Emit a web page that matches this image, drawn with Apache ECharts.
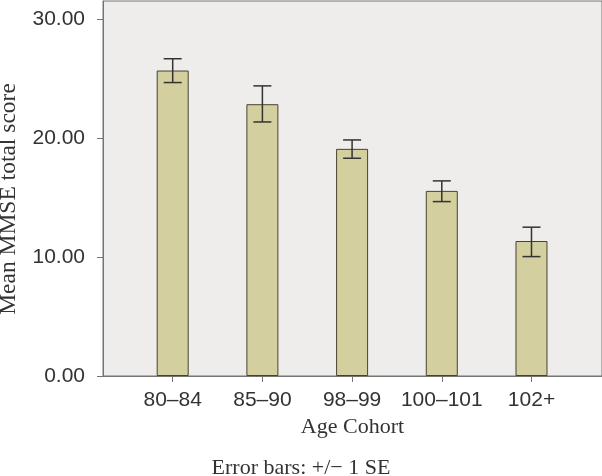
<!DOCTYPE html>
<html>
<head>
<meta charset="utf-8">
<script src="https://cdn.jsdelivr.net/npm/echarts@6/dist/echarts.min.js"></script>
<style>html,body{margin:0;padding:0;background:#fff;}#c{width:602px;height:476px;}</style>
</head>
<body>
<div id="c"></div>
<script>
var categories = ['80\u201384', '85\u201390', '98\u201399', '100\u2013101', '102+'];
var means = [25.66, 22.83, 19.08, 15.55, 11.34];
var seLow = [24.65, 21.34, 18.29, 14.65, 10.03];
var seHigh = [26.65, 24.37, 19.83, 16.39, 12.50];
var yTicks = [0, 10, 20, 30];

var positions = categories.map(function (c, i) { return i + 1; });
var barData = means.map(function (v, i) { return [positions[i], v]; });
var errData = means.map(function (v, i) { return [positions[i], seLow[i], seHigh[i]]; });

var chart = echarts.init(document.getElementById('c'), null, {renderer: 'canvas'});
var gray = '#747474';
var txt = '#333333';
chart.setOption({
  animation: false,
  grid: {
    left: 103, top: 1, right: -1, bottom: 100,
    show: true, backgroundColor: '#efedeb', borderColor: gray, borderWidth: 1
  },
  xAxis: {
    type: 'value', min: 0.223, max: 5.786,
    name: 'Age Cohort', nameLocation: 'middle', nameGap: 40,
    nameTextStyle: {fontFamily: 'Liberation Serif', fontSize: 22, color: txt},
    axisLine: {show: true, lineStyle: {color: gray, width: 1}},
    axisTick: {show: true, length: 6, lineStyle: {color: gray}, customValues: positions},
    axisLabel: {
      customValues: positions, margin: 14,
      fontFamily: 'Liberation Sans', fontSize: 21, color: txt,
      formatter: function (v) { return categories[Math.round(v) - 1] || ''; }
    },
    splitLine: {show: false}
  },
  yAxis: {
    type: 'value', min: 0, max: 31.5,
    axisLine: {show: true, lineStyle: {color: gray, width: 1}},
    axisTick: {show: true, length: 6, lineStyle: {color: gray}, customValues: yTicks},
    axisLabel: {
      customValues: yTicks, margin: 18,
      fontFamily: 'Liberation Sans', fontSize: 21, color: txt,
      formatter: function (v) { return v.toFixed(2); }
    },
    splitLine: {show: false}
  },
  graphic: [{
    type: 'text', x: 9, y: 199, rotation: Math.PI / 2,
    style: {text: 'Mean MMSE total score', font: '23.5px "Liberation Serif"', fill: txt,
            textAlign: 'center', textVerticalAlign: 'middle'}
  }, {
    type: 'text', left: 'center', top: 457,
    style: {text: 'Error bars: +/\u2212 1 SE', font: '22px "Liberation Serif"', fill: txt}
  }],
  series: [{
    type: 'bar', data: barData, barWidth: 32,
    itemStyle: {color: '#d3cf9f', borderColor: '#45432f', borderWidth: 1}
  }, {
    type: 'custom', data: errData,
    renderItem: function (params, api) {
      var x = api.value(0);
      var lo = api.coord([x, api.value(1)]);
      var hi = api.coord([x, api.value(2)]);
      var hw = 9;
      var st = {stroke: '#333', lineWidth: 1.5};
      return {type: 'group', children: [
        {type: 'line', shape: {x1: lo[0], y1: lo[1], x2: hi[0], y2: hi[1]}, style: st},
        {type: 'line', shape: {x1: lo[0] - hw, y1: lo[1], x2: lo[0] + hw, y2: lo[1]}, style: st},
        {type: 'line', shape: {x1: hi[0] - hw, y1: hi[1], x2: hi[0] + hw, y2: hi[1]}, style: st}
      ]};
    },
    z: 5
  }]
});
</script>
</body>
</html>
